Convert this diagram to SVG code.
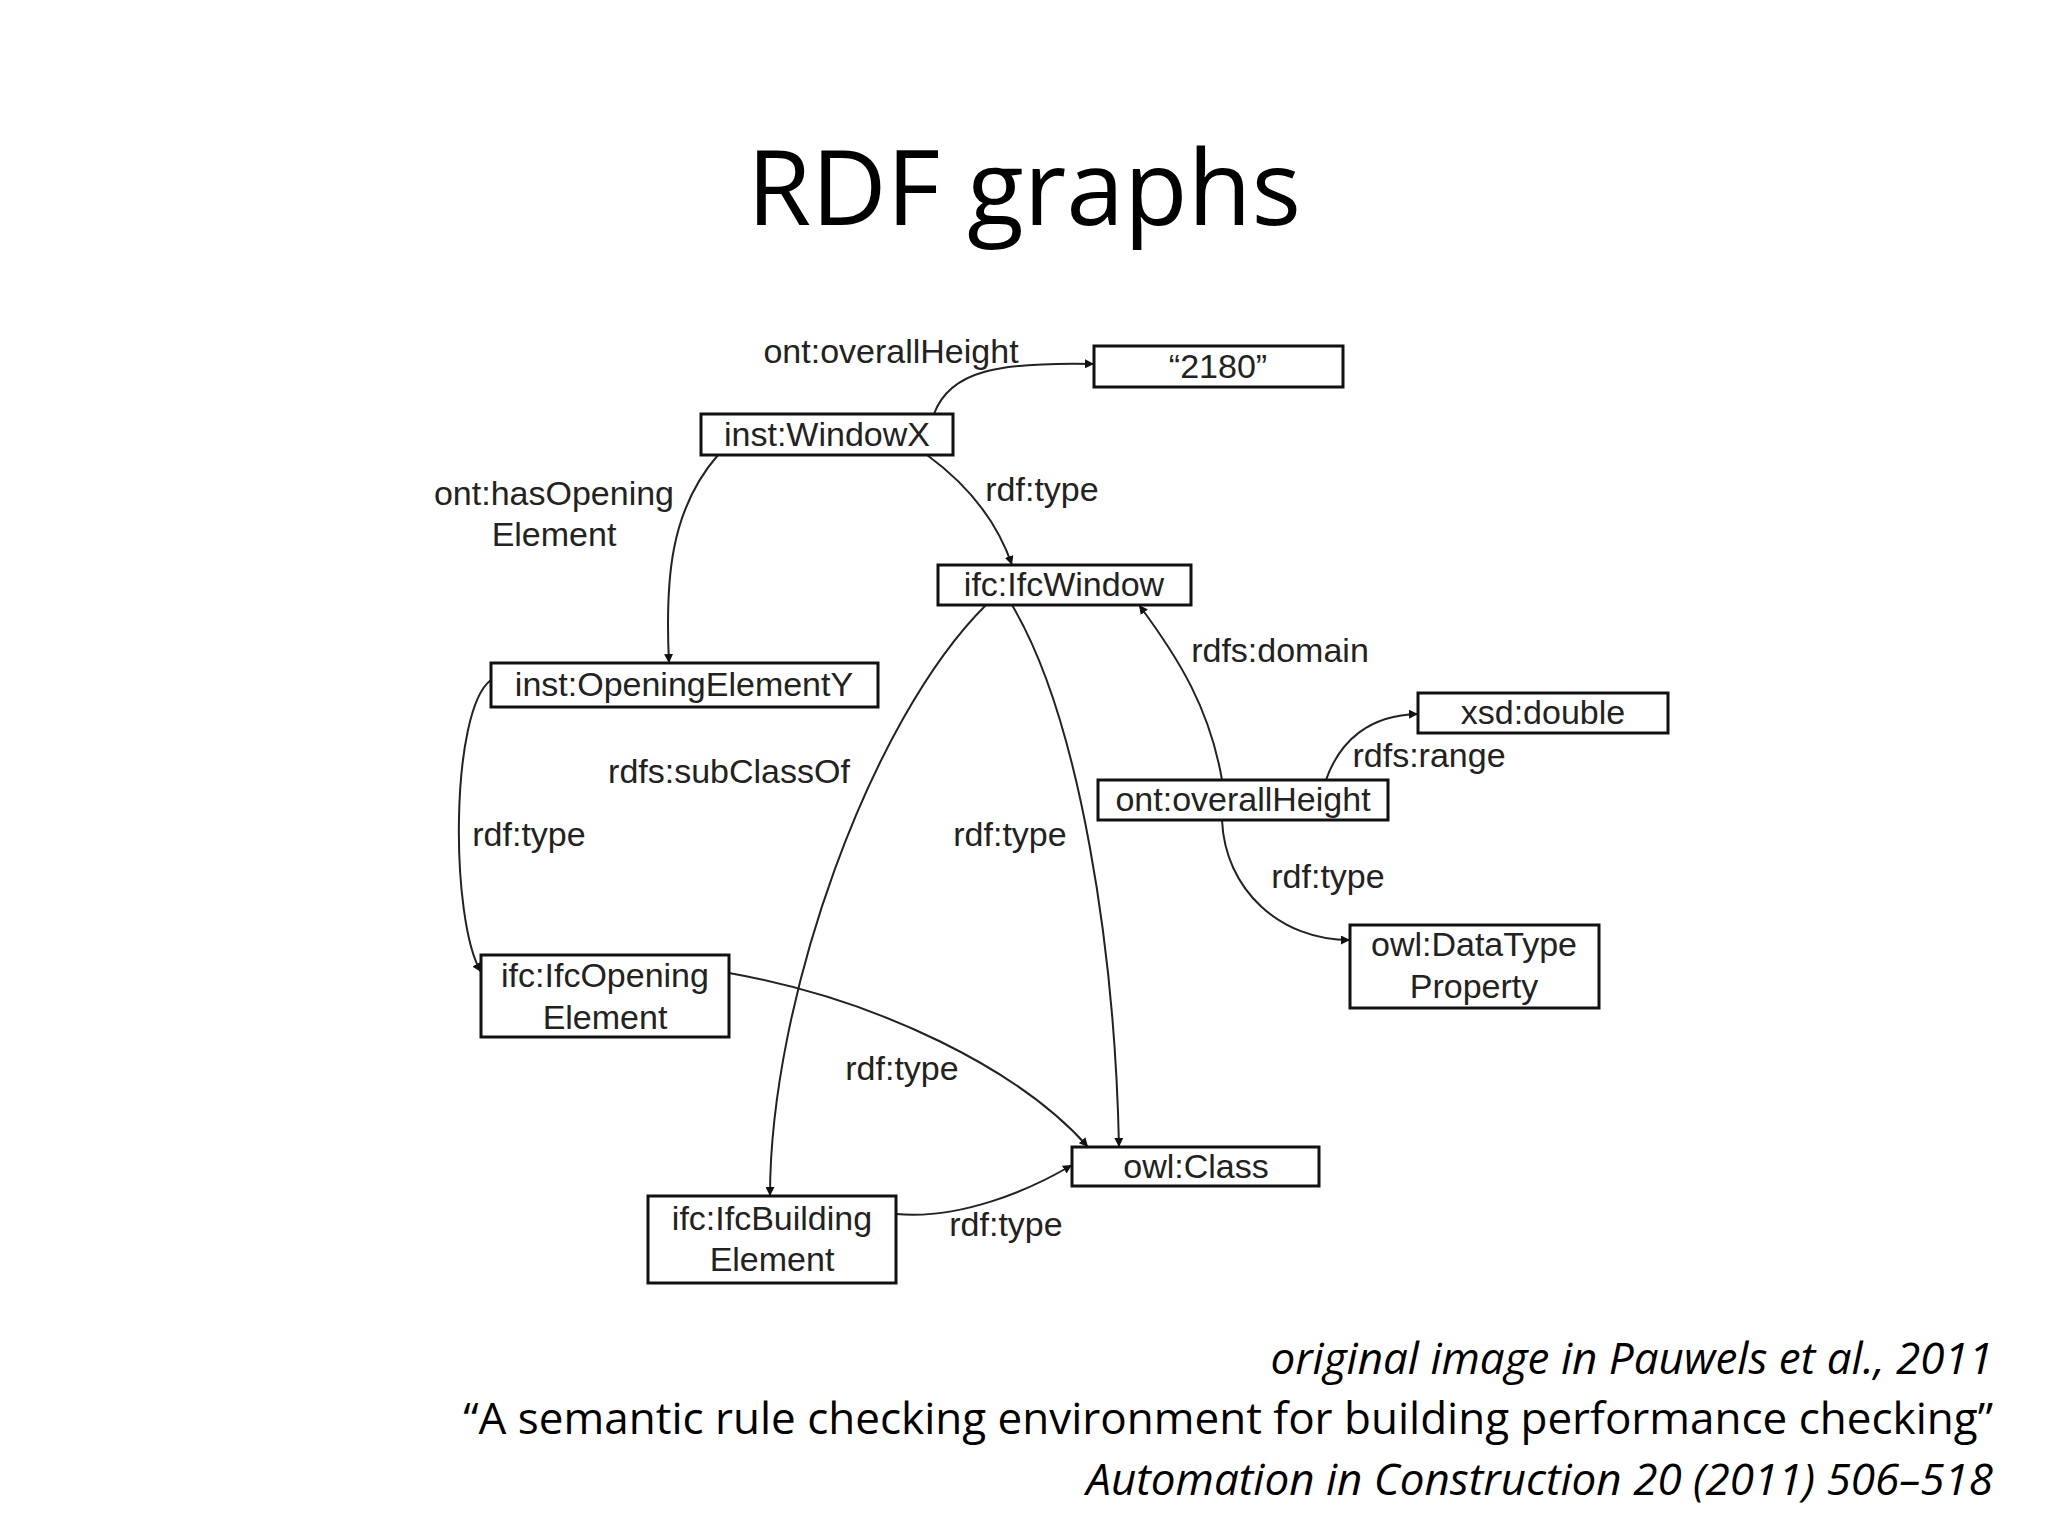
<svg xmlns="http://www.w3.org/2000/svg" width="2048" height="1536" viewBox="0 0 2048 1536">
<defs>
<style>
.n rect{fill:#fff;stroke:#111;stroke-width:3}
text{font-family:"Liberation Sans",Arial,sans-serif;font-size:34px;fill:#222}
.n text{text-anchor:middle}
.l{text-anchor:middle}
.e path{fill:none;stroke:#222;stroke-width:2;marker-end:url(#a)}
.c{font-family:"Open Sans","Liberation Sans",sans-serif;font-size:44px;fill:#000;text-anchor:end}
</style>
<marker id="a" viewBox="0 0 10 10" refX="10" refY="5" markerWidth="9" markerHeight="9" markerUnits="userSpaceOnUse" orient="auto"><path d="M0 0L10 5L0 10z" fill="#111"/></marker>
</defs>
<rect width="2048" height="1536" fill="#fff"/>
<text x="1024" y="225" text-anchor="middle" style="font-family:'Open Sans','Liberation Sans',sans-serif;font-size:104px;fill:#000">RDF graphs</text>
<g class="e">
<path d="M934 414C950 370 1000 362 1094 364"/>
<path d="M718 455C670 510 665 580 669 663"/>
<path d="M927 455C975 490 1000 530 1012 565"/>
<path d="M491 680C450 710 450 920 481 972"/>
<path d="M986 605C870 720 770 1000 770 1196"/>
<path d="M1012 605C1080 720 1115 950 1119 1147"/>
<path d="M1222 780C1210 710 1180 660 1139 605"/>
<path d="M1326 780C1340 740 1370 715 1418 714"/>
<path d="M1222 820C1225 890 1280 940 1350 940"/>
<path d="M729 973C880 1000 1020 1070 1088 1147"/>
<path d="M896 1214C960 1220 1030 1190 1072 1165"/>
</g>
<g id="n2180" class="n"><rect x="1094" y="346" width="249" height="41"/><text x="1218" y="378">“2180”</text></g>
<g id="windowx" class="n"><rect x="701" y="414" width="252" height="41"/><text x="827" y="446">inst:WindowX</text></g>
<g id="ifcwindow" class="n"><rect x="938" y="565" width="253" height="40"/><text x="1064" y="596">ifc:IfcWindow</text></g>
<g id="openingY" class="n"><rect x="491" y="663" width="387" height="44"/><text x="684" y="696">inst:OpeningElementY</text></g>
<g id="xsddouble" class="n"><rect x="1418" y="693" width="250" height="40"/><text x="1543" y="724">xsd:double</text></g>
<g id="overallHeight" class="n"><rect x="1098" y="780" width="290" height="40"/><text x="1243" y="811">ont:overallHeight</text></g>
<g id="datatype" class="n"><rect x="1350" y="925" width="249" height="83"/><text x="1474" y="956">owl:DataType</text><text x="1474" y="998">Property</text></g>
<g id="ifcopening" class="n"><rect x="481" y="955" width="248" height="82"/><text x="605" y="987">ifc:IfcOpening</text><text x="605" y="1029">Element</text></g>
<g id="owlclass" class="n"><rect x="1072" y="1147" width="247" height="39"/><text x="1196" y="1178">owl:Class</text></g>
<g id="ifcbuilding" class="n"><rect x="648" y="1196" width="248" height="87"/><text x="772" y="1230">ifc:IfcBuilding</text><text x="772" y="1271">Element</text></g>
<g id="labels">
<text class="l" x="891" y="363">ont:overallHeight</text>
<text class="l" x="554" y="505">ont:hasOpening</text>
<text class="l" x="554" y="546">Element</text>
<text class="l" x="1042" y="501">rdf:type</text>
<text class="l" x="1280" y="662">rdfs:domain</text>
<text class="l" x="1429" y="767">rdfs:range</text>
<text class="l" x="729" y="783">rdfs:subClassOf</text>
<text class="l" x="529" y="846">rdf:type</text>
<text class="l" x="1010" y="846">rdf:type</text>
<text class="l" x="1328" y="888">rdf:type</text>
<text class="l" x="902" y="1080">rdf:type</text>
<text class="l" x="1006" y="1236">rdf:type</text>
</g>
<text class="c" x="1993" y="1374" font-style="italic">original image in Pauwels et al., 2011</text>
<text class="c" x="1993" y="1434">“A semantic rule checking environment for building performance checking”</text>
<text class="c" x="1993" y="1495" font-style="italic">Automation in Construction 20 (2011) 506–518</text>
</svg>
